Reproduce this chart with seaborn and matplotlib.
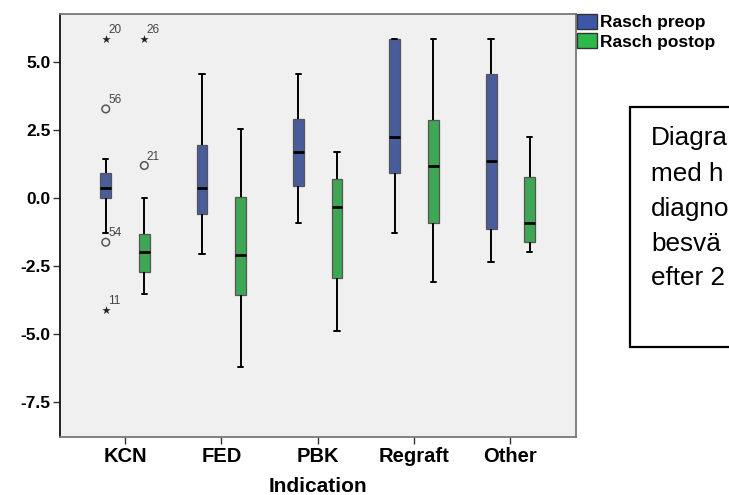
import numpy as np
import pandas as pd
import matplotlib
matplotlib.use('Agg')
import matplotlib.pyplot as plt
from matplotlib.patches import Patch, Rectangle
import seaborn as sns

# categories and series
indications = ['KCN', 'FED', 'PBK', 'Regraft', 'Other']
series = ['Rasch preop', 'Rasch postop']
colors = ['#3c56a8', '#2db84a']

# five-number summaries: lower whisker, Q1, median, Q3, upper whisker
preop_stats = [
    [-1.28, 0.00, 0.37, 0.92, 1.42],
    [-2.06, -0.60, 0.37, 1.95, 4.57],
    [-0.92, 0.44, 1.69, 2.89, 4.56],
    [-1.28, 0.92, 2.24, 5.83, 5.83],
    [-2.34, -1.13, 1.36, 4.55, 5.83],
]
postop_stats = [
    [-3.54, -2.72, -2.00, -1.34, 0.00],
    [-6.20, -3.57, -2.10, 0.05, 2.54],
    [-4.91, -2.93, -0.34, 0.71, 1.69],
    [-3.10, -0.91, 1.19, 2.87, 5.83],
    [-2.00, -1.63, -0.91, 0.77, 2.24],
]

# outliers (KCN only): value, case label, kind
out_series = ['Rasch preop', 'Rasch preop', 'Rasch preop', 'Rasch preop', 'Rasch postop', 'Rasch postop']
out_values = [5.83, 3.27, -1.63, -4.12, 5.83, 1.19]
out_labels = ['20', '56', '54', '11', '26', '21']
out_kind = ['extreme', 'outlier', 'outlier', 'extreme', 'extreme', 'outlier']
out_group = ['KCN'] * 6

yticks = [-7.5, -5.0, -2.5, 0.0, 2.5, 5.0]

# note box text, as much of it as is visible at the right edge
note_lines = ['Diagra', 'med h', 'diagno', 'besvä', 'efter 2']

rows = []
for name, stats in zip(series, [preop_stats, postop_stats]):
    for ind, vals in zip(indications, stats):
        for v in vals:
            rows.append({'Indication': ind, 'Measure': name, 'value': v})
df = pd.DataFrame(rows)

sns.set_style('white')
plt.rcParams['font.family'] = ['Liberation Sans', 'DejaVu Sans']
plt.rcParams['text.color'] = 'black'
plt.rcParams['xtick.color'] = 'black'
plt.rcParams['ytick.color'] = 'black'
plt.rcParams['axes.labelcolor'] = 'black'

fig = plt.figure(figsize=(7.29, 4.95), dpi=100)
ax = fig.add_axes([0.0823, 0.1172, 0.7077, 0.8545])
ax.set_facecolor('#f0f0f0')

sns.boxplot(data=df, x='Indication', y='value', hue='Measure',
            order=indications, hue_order=series, palette=colors,
            width=0.8, gap=0.72, whis=(0, 100), showfliers=False,
            linecolor='#555555', linewidth=0.9, legend=False,
            medianprops={'color': 'black', 'linewidth': 2},
            whiskerprops={'color': 'black', 'linewidth': 1.4},
            capprops={'color': 'black', 'linewidth': 1.4},
            ax=ax)

# outliers and extremes with case numbers
offset = {'Rasch preop': -0.2, 'Rasch postop': 0.2}
for s, v, lab, k, g in zip(out_series, out_values, out_labels, out_kind, out_group):
    xpos = indications.index(g) + offset[s]
    if k == 'extreme':
        ax.scatter([xpos], [v], marker='*', s=40, color='#222222', linewidths=0, zorder=5)
    else:
        ax.scatter([xpos], [v], marker='o', s=30, facecolors='none',
                   edgecolors='#555555', linewidths=1.1, zorder=5)
    ax.annotate(lab, (xpos, v), xytext=(1.8, 4.2), textcoords='offset points',
                fontsize=8.5, color='#444444', va='baseline', ha='left')

ax.set_xlim(-0.675, 4.68)
ax.set_ylim(-8.79, 6.76)
ax.set_yticks(yticks)
ax.set_yticklabels([f'{t:.1f}' for t in yticks], fontsize=12.5, fontweight='bold')
ax.set_xticks(range(len(indications)))
ax.set_xticklabels(indications, fontsize=14.5, fontweight='bold')
ax.tick_params(axis='both', direction='out', length=5, width=1, color='#333333',
               left=True, bottom=True, pad=2)
ax.set_xlabel('Indication', fontsize=15, fontweight='bold', labelpad=8)
ax.set_ylabel('')
for side in ['top', 'right', 'bottom']:
    ax.spines[side].set_color('#777777')
    ax.spines[side].set_linewidth(1.3)
ax.spines['left'].set_color('#111111')
ax.spines['left'].set_linewidth(1.3)

handles = [Patch(facecolor=c, edgecolor='#333333', linewidth=1) for c in colors]
fig.legend(handles, series, loc='upper left', bbox_to_anchor=(577 / 729, 1 - 14 / 495),
           frameon=False, borderpad=0, borderaxespad=0, handlelength=1.15,
           handleheight=0.95, handletextpad=0.2, labelspacing=0.15,
           prop={'weight': 'bold', 'size': 12.5})

# note box at the right edge (cut off in the original)
fig.patches.append(Rectangle((630 / 729, 1 - 347 / 495), 0.5, 240 / 495,
                             transform=fig.transFigure, facecolor='white',
                             edgecolor='black', linewidth=1.6, zorder=0))
baselines = [145, 181, 216, 251, 285]
for line, yb in zip(note_lines, baselines):
    fig.text(651 / 729, 1 - yb / 495, line, fontsize=18.8, va='baseline', ha='left')

fig.savefig('out.png', dpi=100)
